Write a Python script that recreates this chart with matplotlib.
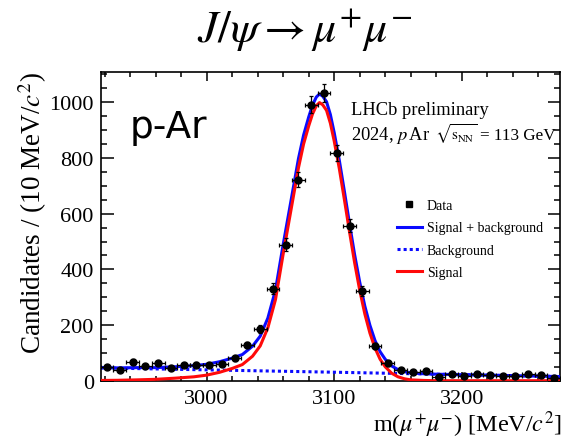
import numpy as np
import matplotlib
matplotlib.use("Agg")
import matplotlib.pyplot as plt
from matplotlib.lines import Line2D
from matplotlib.ticker import MultipleLocator

plt.rcParams['font.family'] = ['Liberation Serif', 'DejaVu Serif']
plt.rcParams['mathtext.fontset'] = 'stix'

# data: J/psi candidates per 10 MeV bin
bin_centers = [2922, 2932, 2942, 2952, 2962, 2972, 2982, 2992, 3002, 3012,
               3022, 3032, 3042, 3052, 3062, 3072, 3082, 3092, 3102, 3112,
               3122, 3132, 3142, 3152, 3162, 3172, 3182, 3192, 3202, 3212,
               3222, 3232, 3242, 3252, 3262, 3272]
counts = [51, 37, 68, 54, 63, 44, 56, 58, 56, 61,
          81, 127, 186, 331, 489, 722, 992, 1032, 817, 557,
          321, 126, 62, 39, 31, 35, 15, 25, 16, 24,
          20, 17, 18, 23, 20, 10]

# fit curves
curve_m = [2917, 2930, 2945, 2960, 2975, 2990, 3000, 3010, 3020, 3028,
           3036, 3042, 3048, 3054, 3060, 3066, 3072, 3076, 3080, 3083,
           3086, 3088.5, 3091, 3094, 3097, 3100, 3104, 3108, 3112, 3116,
           3120, 3124, 3128, 3132, 3136, 3140, 3145, 3150, 3155, 3160,
           3170, 3180, 3200, 3230, 3277]
signal = [1, 1.5, 3, 5, 9, 14, 20, 30, 44, 58,
          88, 125, 190, 292, 455, 610, 765, 850, 915, 958,
          988, 999, 991, 971, 925, 861, 762, 650, 535, 424,
          325, 240, 171, 117, 77, 50, 27, 14, 7, 3,
          1, 0, 0, 0, 0]
total = [47, 46, 47, 47, 50, 54, 59, 68, 81, 94,
         124, 160, 225, 326, 489, 643, 798, 882, 947, 990,
         1019, 1030, 1022, 1002, 956, 891, 792, 680, 564, 453,
         354, 268, 199, 144, 104, 77, 53, 40, 32.5, 28,
         25, 23.4, 21.6, 19.1, 15]
bkg_m = [2917, 3000, 3100, 3200, 3277]
bkg = [46, 39, 30.5, 21.6, 15]

fig = plt.figure(figsize=(5.62, 4.39), dpi=100)
ax = fig.add_axes([0.1792, 0.1305, 0.8173, 0.7039])

ax.plot(curve_m, total, color='#0a0aff', lw=2.2, zorder=3)
ax.plot(bkg_m, bkg, color='#0a0aff', lw=2.2, ls=(0, (1, 1)), zorder=3)
ax.plot(curve_m, signal, color='#ff0a0a', lw=2.2, zorder=4)

yerr = np.sqrt(counts)
ax.errorbar(bin_centers, counts, xerr=5, yerr=yerr, fmt='o', color='black',
            ms=5, elinewidth=0.9, capsize=1.5, capthick=0.9, zorder=5)

ax.set_xlim(2917, 3277)
ax.set_ylim(0, 1110)
ax.xaxis.set_major_locator(MultipleLocator(100))
ax.xaxis.set_minor_locator(MultipleLocator(20))
ax.yaxis.set_major_locator(MultipleLocator(200))
ax.yaxis.set_minor_locator(MultipleLocator(50))
ax.tick_params(which='both', direction='in', top=True, right=True, labelsize=16, width=1.1)
ax.tick_params(axis='x', which='major', length=6.5, pad=6)
ax.tick_params(axis='x', which='minor', length=3.5)
ax.tick_params(axis='y', which='major', length=9, pad=5)
ax.tick_params(axis='y', which='minor', length=4.5)
for s in ax.spines.values():
    s.set_linewidth(1.2)

fig.text(33 / 562, 1 - 72 / 439, r'Candidates / (10 MeV/$c^{2}$)', rotation=90,
         ha='center', va='top', fontsize=19.5)
fig.text(1.0, 1 - 432 / 439, r'm($\mu^{+}\mu^{-}$) [MeV/$c^{2}$]',
         ha='right', va='baseline', fontsize=17.4)

ax.text(0.545, 0.863, 'LHCb preliminary', transform=ax.transAxes, fontsize=13.3)
ax.text(0.545, 0.782, r'2024, $p\,$Ar', transform=ax.transAxes, fontsize=13.3)
ax.text(0.727, 0.782, r'$\sqrt{\mathrm{s}_{\mathrm{NN}}}$', transform=ax.transAxes,
        fontsize=11)
ax.text(0.826, 0.782, '= 113 GeV', transform=ax.transAxes, fontsize=12.3)
ax.text(0.064, 0.789, 'p-Ar', transform=ax.transAxes, fontsize=27,
        family='DejaVu Sans')

fig.text(305 / 562, 1 - 31 / 439, r'$J/\psi \rightarrow \mu^{+}\mu^{-}$',
         ha='center', va='center', fontsize=33)

handles = [
    Line2D([], [], marker='s', color='black', ls='none', ms=5),
    Line2D([], [], color='#0a0aff', lw=2.2),
    Line2D([], [], color='#0a0aff', lw=2.2, ls=(0, (1, 1))),
    Line2D([], [], color='#ff0a0a', lw=2.2),
]
labels = ['Data', 'Signal + background', 'Background', 'Signal']
ax.legend(handles, labels, loc='upper left', bbox_to_anchor=(0.6445, 0.588),
          frameon=False, fontsize=10, borderpad=0, borderaxespad=0,
          handlelength=1.8, handletextpad=0.36, labelspacing=0.68)

fig.savefig('out.png', dpi=100)
